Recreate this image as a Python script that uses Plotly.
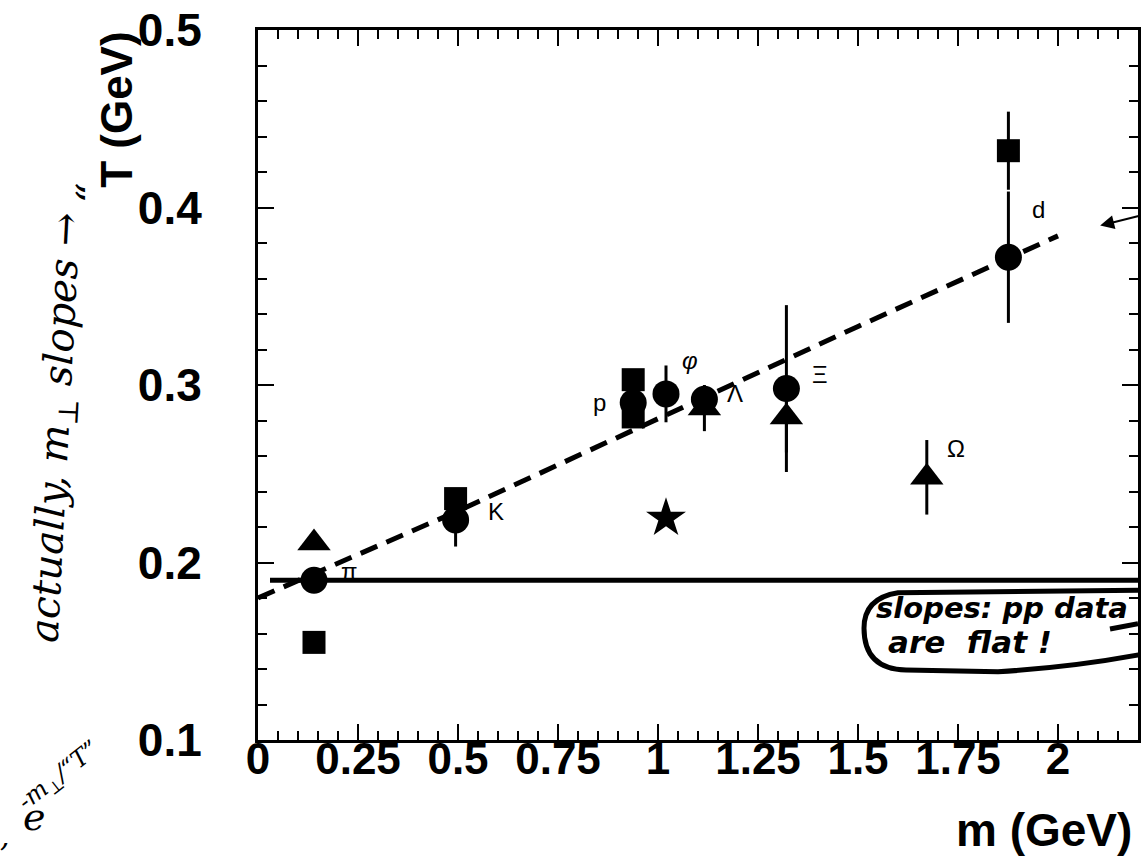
import plotly.graph_objects as go

# ---- data (m in GeV, T in GeV) ----
circ_m = [0.140, 0.494, 0.938, 1.020, 1.116, 1.321, 1.876]
circ_T = [0.190, 0.224, 0.290, 0.295, 0.292, 0.298, 0.372]
circ_e = [0.0, 0.015, 0.0, 0.016, 0.0, 0.047, 0.037]

sq_m = [0.140, 0.494, 0.938, 0.938, 1.876]
sq_T = [0.155, 0.236, 0.303, 0.282, 0.432]
sq_e = [0.0, 0.0, 0.0, 0.0, 0.022]

tri_m = [0.140, 1.116, 1.321, 1.672]
tri_T = [0.211, 0.287, 0.282, 0.248]
tri_e = [0.0, 0.013, 0.02, 0.021]

star_m = [1.020]
star_T = [0.225]

fit_m = [0.0, 0.5, 1.0, 1.5, 2.0]
fit_T = [0.180, 0.229, 0.281, 0.333, 0.384]

flat_m = [0.03, 2.2]
flat_T = [0.190, 0.190]

lab_text = ["π", "K", "p", "φ", "Λ", "Ξ", "Ω", "d"]
lab_m = [0.229, 0.596, 0.853, 1.079, 1.193, 1.405, 1.744, 1.95]
lab_T = [0.195, 0.2287, 0.290, 0.3137, 0.295, 0.306, 0.264, 0.399]

xtick_vals = [0, 0.25, 0.5, 0.75, 1, 1.25, 1.5, 1.75, 2]
xtick_text = ["0", "0.25", "0.5", "0.75", "1", "1.25", "1.5", "1.75", "2"]
ytick_vals = [0.1, 0.2, 0.3, 0.4, 0.5]
ytick_text = ["0.1", "0.2", "0.3", "0.4", "0.5"]

fig = go.Figure()

# fit (dashed) and flat (solid) lines
fig.add_trace(go.Scatter(x=fit_m, y=fit_T, mode="lines",
                         line=dict(color="black", width=5, dash="18px,10px"),
                         showlegend=False, hoverinfo="skip"))
fig.add_trace(go.Scatter(x=flat_m, y=flat_T, mode="lines",
                         line=dict(color="black", width=5),
                         showlegend=False, hoverinfo="skip"))

def err(e):
    return dict(type="data", array=e, visible=True, color="black", thickness=3, width=0)

fig.add_trace(go.Scatter(x=sq_m, y=sq_T, mode="markers", error_y=err(sq_e),
                         marker=dict(symbol="square", size=23, color="black"),
                         showlegend=False))
fig.add_trace(go.Scatter(x=tri_m, y=tri_T, mode="markers", error_y=err(tri_e),
                         marker=dict(symbol="triangle-up", size=29, color="black"),
                         showlegend=False))
fig.add_trace(go.Scatter(x=circ_m, y=circ_T, mode="markers", error_y=err(circ_e),
                         marker=dict(symbol="circle", size=27, color="black"),
                         showlegend=False))
fig.add_trace(go.Scatter(x=star_m, y=star_T, mode="markers",
                         marker=dict(symbol="star", size=30, color="black"),
                         showlegend=False))

# particle labels
for t, xm, yt in zip(lab_text, lab_m, lab_T):
    fig.add_annotation(x=xm, y=yt, text=t, showarrow=False,
                       xanchor="center", yanchor="middle",
                       font=dict(family="Liberation Sans", size=24, color="black",
                                 style="italic" if t == "φ" else "normal"))

axis_common = dict(showline=True, linewidth=3, linecolor="black", mirror="ticks",
                   ticks="inside", tickcolor="black", tickwidth=2, ticklen=16,
                   showgrid=False, zeroline=False, ticklabeloverflow="allow")

fig.update_xaxes(range=[0, 2.2], tickvals=xtick_vals, ticktext=xtick_text,
                 tickfont=dict(family="Liberation Sans Narrow, Liberation Sans", size=44,
                               color="black", weight="bold"),
                 ticklabelstandoff=-22,
                 minor=dict(dtick=0.05, ticks="inside", ticklen=9, tickwidth=2,
                            tickcolor="black", tick0=0),
                 **axis_common)
fig.update_yaxes(range=[0.1, 0.5], tickvals=ytick_vals, ticktext=ytick_text,
                 tickfont=dict(family="Liberation Sans", size=46, color="black", weight="bold"),
                 ticklabelstandoff=44,
                 minor=dict(dtick=0.02, ticks="inside", ticklen=9, tickwidth=2,
                            tickcolor="black", tick0=0.1),
                 **axis_common)

# axis titles (printed)
fig.add_annotation(xref="paper", yref="paper", x=-0.161, y=0.888, text="T (GeV)",
                   textangle=-90, showarrow=False, xanchor="center", yanchor="middle",
                   font=dict(family="Liberation Sans", size=44, color="black", weight="bold"))
fig.add_annotation(xref="paper", yref="paper", x=0.995, y=-0.127, xanchor="right",
                   yanchor="middle", text="m (GeV)", showarrow=False,
                   font=dict(family="Liberation Sans", size=46, color="black", weight="bold"))

# handwritten notes
hand = dict(family="DejaVu Serif", size=40, color="black", style="italic")
fig.add_annotation(xref="paper", yref="paper", x=-0.228, y=0.44,
                   text="actually, m<sub>⊥</sub> slopes →", textangle=-87,
                   xanchor="center", yanchor="middle",
                   showarrow=False, font=hand)
fig.add_annotation(xref="paper", yref="paper", x=-0.19, y=0.77, text="\u201c",
                   textangle=-90, showarrow=False, xanchor="center", yanchor="middle",
                   font=hand)
fig.add_annotation(xref="paper", yref="paper", x=-0.254, y=-0.108, text="e",
                   showarrow=False, xanchor="center", yanchor="middle",
                   font=dict(family="DejaVu Serif", size=38, color="black", style="italic"))
fig.add_annotation(xref="paper", yref="paper", x=-0.226, y=-0.052,
                   text="-m<sub>⊥</sub>/\u201cT\u201d", textangle=-38,
                   showarrow=False, xanchor="center", yanchor="middle",
                   font=dict(family="DejaVu Serif", size=24, color="black", style="italic"))
fig.add_annotation(xref="paper", yref="paper", x=-0.287, y=-0.135, text=",",
                   showarrow=False, xanchor="center", yanchor="middle",
                   font=dict(family="DejaVu Serif", size=30, color="black", style="italic"))

# speech bubble with note
fig.add_shape(type="path", xref="x", yref="y",
              path="M 2.25,0.1845 L 1.60,0.1830 Q 1.515,0.180 1.515,0.163 "
                   "Q 1.515,0.140 1.62,0.1395 L 1.85,0.1385 Q 2.05,0.141 2.25,0.150",
              line=dict(color="black", width=5))
fig.add_shape(type="line", xref="x", yref="y", x0=2.13, y0=0.1625, x1=2.2, y1=0.1655,
              line=dict(color="black", width=5))
fig.add_annotation(x=1.861, y=0.1744, text="slopes: pp data", showarrow=False,
                   xanchor="center", yanchor="middle",
                   font=dict(family="DejaVu Sans", size=29, color="black",
                             weight="bold", style="italic"))
fig.add_annotation(x=1.779, y=0.1554, text="are  flat !", showarrow=False,
                   xanchor="center", yanchor="middle",
                   font=dict(family="DejaVu Sans", size=31, color="black",
                             weight="bold", style="italic"))

# hand-drawn arrow at right
fig.add_annotation(xref="paper", yref="paper", x=0.957, y=0.7245, ax=40, ay=-10,
                   text="", showarrow=True, arrowhead=2, arrowsize=1.4,
                   arrowwidth=2, arrowcolor="black")

fig.update_layout(width=1145, height=861,
                  margin=dict(l=258, r=4, t=25, b=121),
                  paper_bgcolor="white", plot_bgcolor="white",
                  showlegend=False)

fig.write_html("out.html")
